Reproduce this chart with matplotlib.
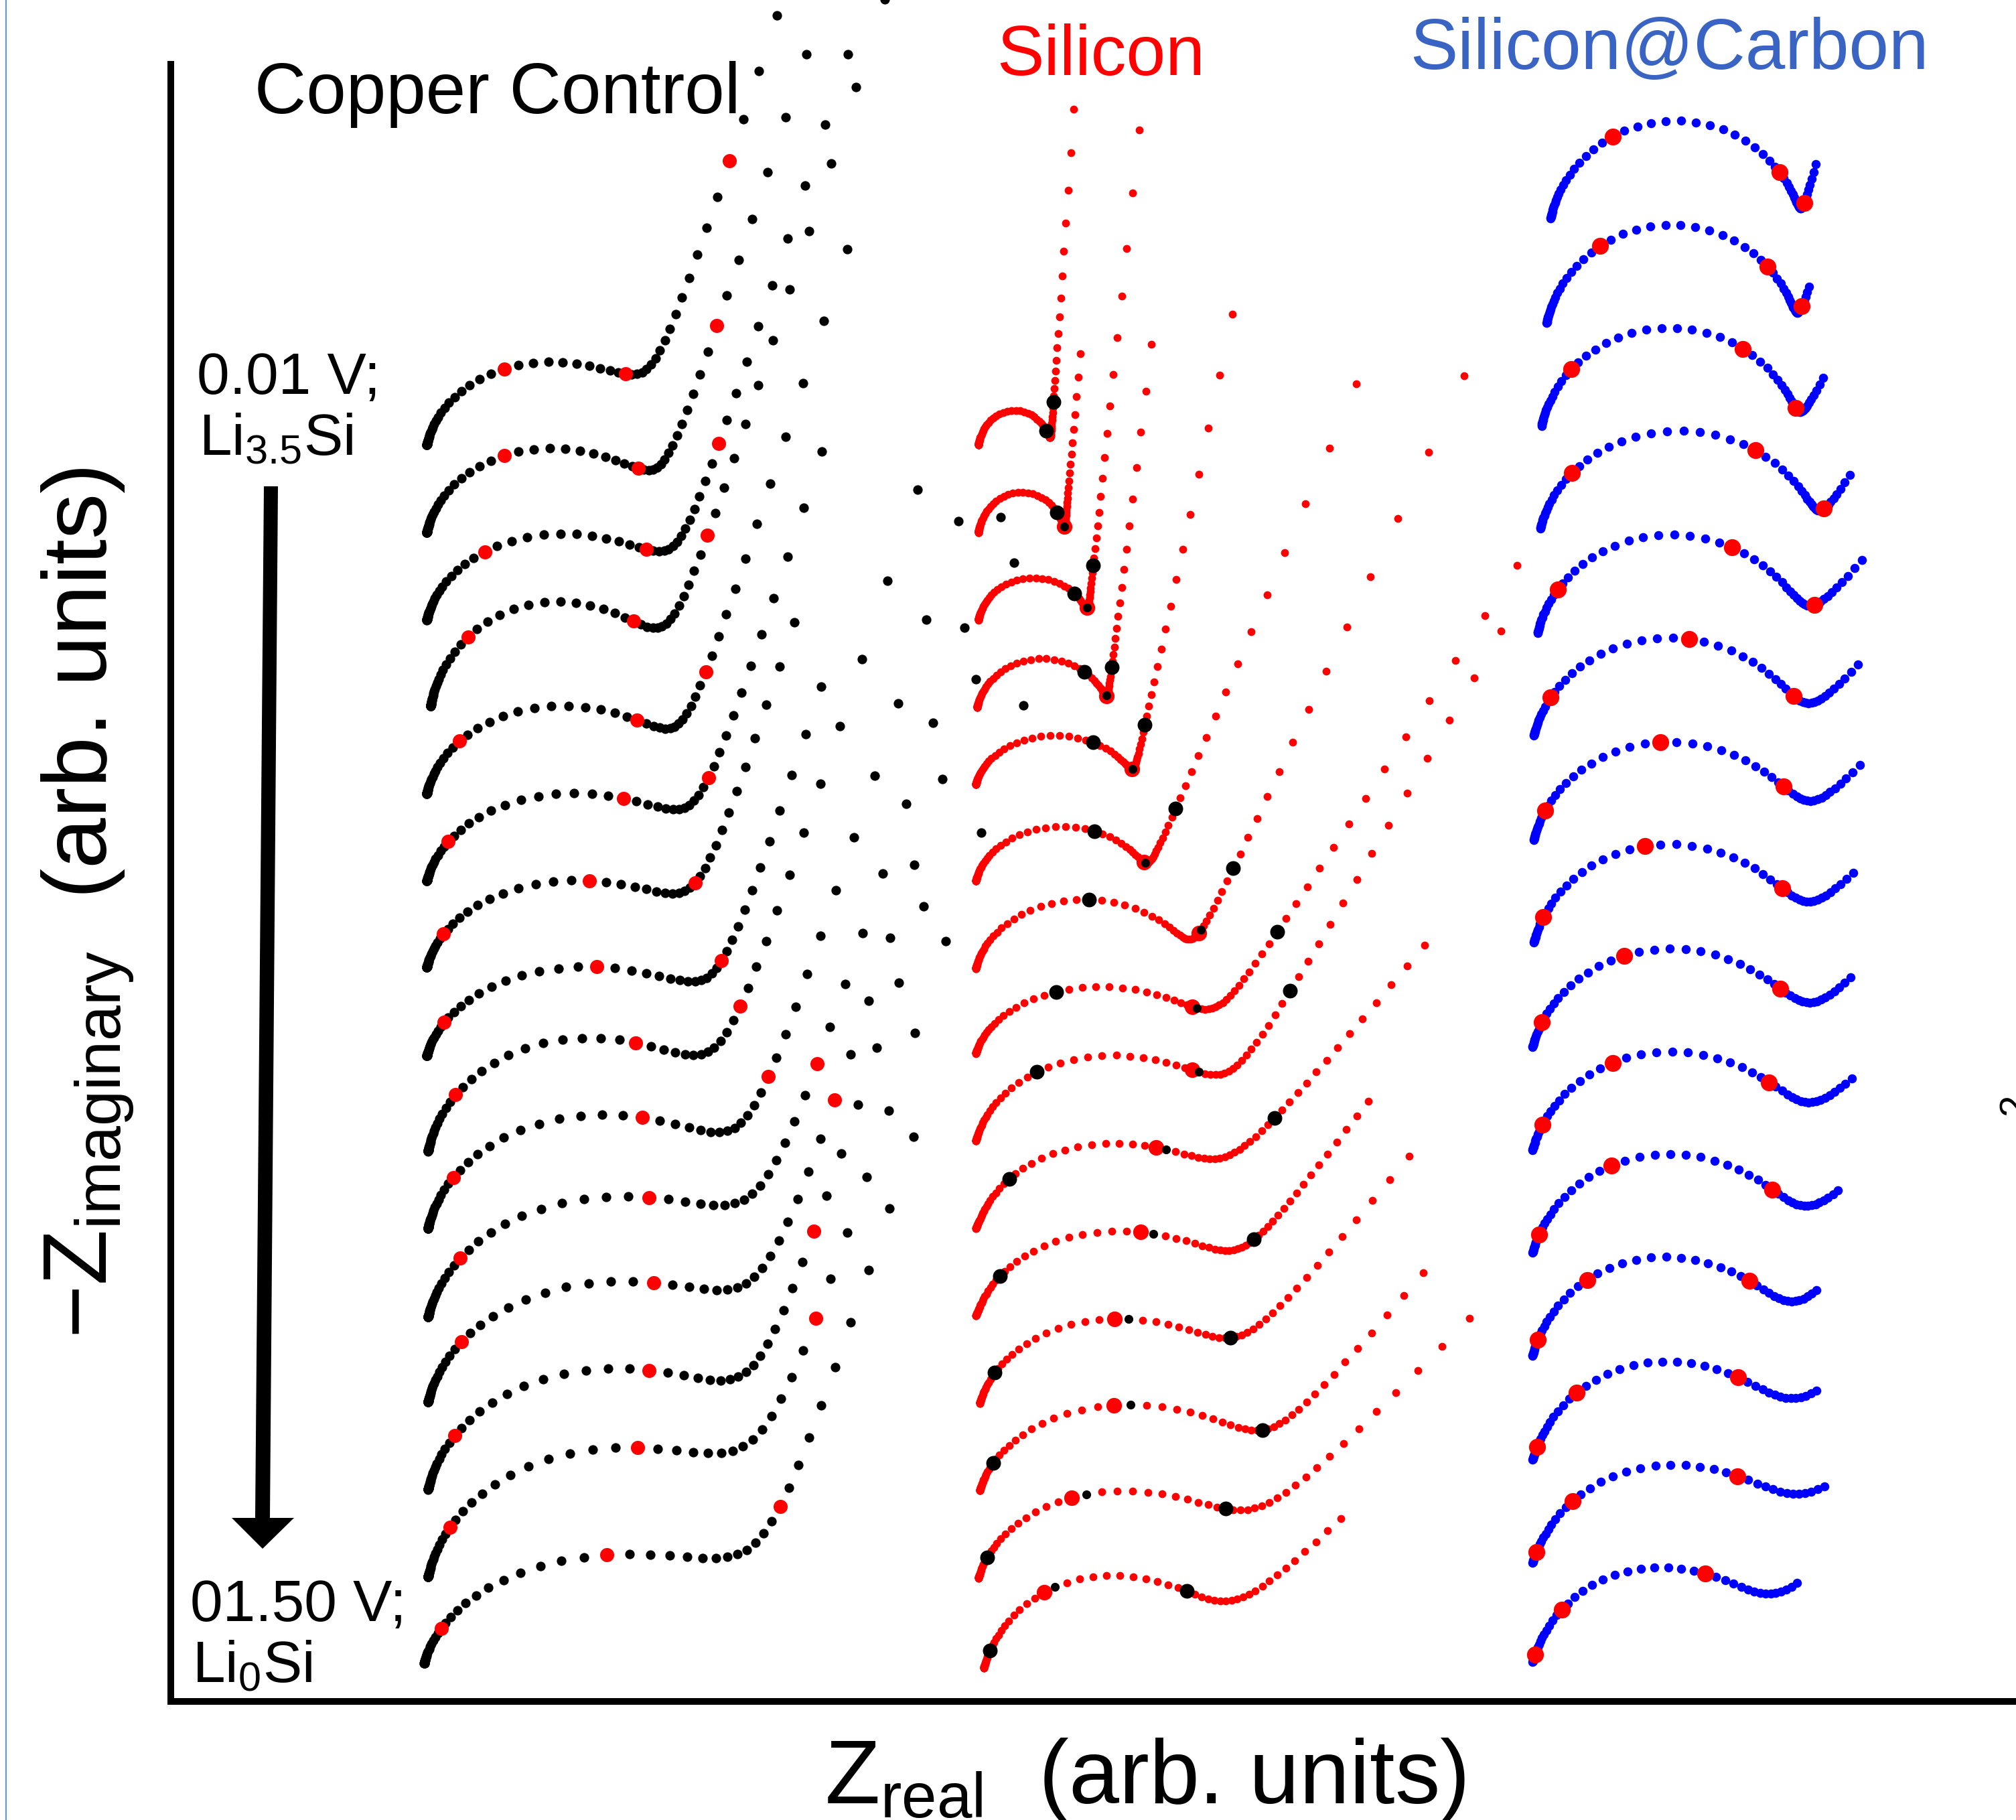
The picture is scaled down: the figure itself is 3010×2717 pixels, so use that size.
import numpy as np
import matplotlib.pyplot as plt
from matplotlib.lines import Line2D
from matplotlib.patches import Polygon

plt.rcParams['font.family'] = ['Liberation Sans', 'DejaVu Sans']
plt.rcParams['mathtext.fontset'] = 'custom'
plt.rcParams['mathtext.rm'] = 'Liberation Sans'
plt.rcParams['mathtext.it'] = 'Liberation Sans'

FIG_W, FIG_H = 3010, 2717
BASE = 1323  # y of the x axis in reference units

# Copper control (black points, red markers)
cu_x0 = [332, 332, 332, 335, 332, 332, 332, 332, 333, 333, 333, 333, 333, 333, 330]
cu_y0 = [346, 414, 482, 549, 617, 685, 752, 821, 895, 955, 1024, 1090, 1158, 1226, 1293]
cu_R = [165, 175, 185, 175, 190, 200, 200, 215, 215, 235, 245, 245, 240, 245, 250]
cu_ky = [0.8, 0.8, 0.75, 0.98, 0.765, 0.71, 0.69, 0.665, 0.85, 0.78, 0.76, 0.76, 0.78, 0.81, 0.653]
cu_S = [8.2, 5.8, 7.9, 8.3, 6.2, 7.7, 8.5, 8.3, 10, 10, 13.75, 13.75, 13.75, 15, 14]
cu_n = [0.79, 0.81, 0.75, 0.75, 0.8, 0.8, 0.8, 0.8, 0.85, 0.85, 0.85, 0.85, 0.8, 0.9, 0.85]
cu_ulo = [0.0021, 0.0023, 0.0031, 0.0035, 0.0048, 0.0085, 0.0127, 0.0113,
          0.0092, 0.0085, 0.0107, 0.0101, 0.012, 0.0138, 0.018]
cu_marks = [
    [(389, 284), (487, 290), (564, 125)],
    [(388, 353), (497, 366), (559, 256)],
    [(373, 431), (502, 428), (562, 347)],
    [(367, 495), (494, 484), (545, 418)],
    [(357, 578), (493, 558), (553, 523)],
    [(350, 654), (479, 620), (550, 606)],
    [(344, 726), (458, 685), (540, 682)],
    [(346, 794), (470, 752), (560, 747)],
    [(352, 852), (490, 809), (578, 777)],
    [(356, 915), (505, 871), (601, 838)],
    [(358, 978), (512, 930), (618, 828)],
    [(359, 1046), (513, 996), (618, 860)],
    [(355, 1116), (501, 1063), (608, 936)],
    [(352, 1185), (490, 1124), (599, 1020)],
    [(346, 1265), (470, 1211), (596, 1165)],
]

# Silicon (red points, black markers)
si_x0 = [761, 761, 761, 760, 759, 759, 759, 759, 759, 759, 759, 762, 762, 761, 765]
si_y0 = [346, 414, 482, 550, 610, 685, 753, 819, 887, 955, 1023, 1091, 1159, 1227, 1297]
si_R = [56, 67, 85, 101, 122, 132, 165, 175, 180, 165, 180, 180, 205, 190, 165]
si_ky = [1.13, 1.1, 0.9, 0.88, 0.73, 0.75, 0.75, 0.64, 0.75, 0.75, 0.7, 0.75, 0.7, 0.75, 0.9]
si_S = [0.15, 0.08, 0.32, 0.26, 0.45, 0.6, 1.25, 5.15, 10.5, 18, 16, 10.8, 8, 10, 13]
si_n = [0.9, 0.9, 0.9, 0.9, 0.9, 0.9, 0.9, 0.71, 0.63, 0.49, 0.47, 0.66, 0.72, 0.76, 0.6]
si_theta = [86, 85, 84, 83, 78, 67, 65, 57, 60, 50, 53, 51, 50, 46, 45]
si_ulo = [2.5e-4, 2.5e-4, 3.8e-4, 4.2e-4, 5.7e-4, 6.9e-4, 1.26e-3, 1.83e-3,
          2.5e-3, 3.5e-3, 4.2e-3, 8.8e-3, 0.0101, 0.0126, 0.0151]
si_black = [
    [(812, 336), (821, 314)],
    [(822, 399)],
    [(834, 463), (851, 438)],
    [(846, 521), (863, 518)],
    [(852, 578), (890, 560)],
    [(850, 641), (911, 626)],
    [(844, 699), (963, 679)],
    [(822, 771), (1013, 732)],
    [(806, 836), (1017, 783)],
    [(788, 916), (989, 871)],
    [(781, 992), (967, 955)],
    [(774, 1066), (955, 1030)],
    [(773, 1139), (981, 1100)],
    [(768, 1211), (955, 1168)],
    [(770, 1283), (928, 1233)],
]
si_red = [
    [],
    [(828, 412)],
    [(846, 475)],
    [(861, 543)],
    [(881, 605)],
    [(891, 668)],
    [(930, 723)],
    [(927, 779)],
    [(926, 832)],
    [(901, 892)],
    [(882, 957)],
    [(867, 1024)],
    [(867, 1092)],
    [(837, 1163)],
    [(814, 1239)],
]

# Silicon@Carbon (blue points, red markers)
sc_x0 = [1206, 1203, 1199, 1198, 1196, 1193, 1193, 1193, 1192, 1192, 1192, 1192, 1192, 1192, 1192]
sc_y0 = [170, 251, 331, 411, 492, 572, 653, 733, 814, 894, 974, 1054, 1135, 1215, 1292]
sc_R = [195, 195, 200, 215, 205, 205, 203, 200, 200, 198, 195, 185, 180, 180, 165]
sc_ky = [0.955, 0.955, 0.93, 0.864, 0.9, 0.89, 0.89, 0.9, 0.885, 0.885, 0.9, 0.93, 0.93, 0.9, 0.94]
sc_S = [0.13, 0.13, 0.22, 0.36, 1.3, 2.2, 3.6, 4.6, 6.0, 7.2, 7.6, 9.1, 12, 15.2, 13.9]
sc_n = [1.0, 1.0, 1.0, 1.0, 0.85, 0.78, 0.72, 0.67, 0.62, 0.6, 0.57, 0.57, 0.57, 0.57, 0.57]
sc_theta = [75, 72, 63, 58, 50, 49, 48, 47, 47, 46, 46, 50, 46, 44, 50]
sc_ulo = [0.0028, 0.0041, 0.005, 0.0071, 0.0084, 0.011, 0.014, 0.016,
          0.018, 0.02, 0.0234, 0.036, 0.052, 0.065, 0.059]
sc_marks = [
    [(1255, 102), (1385, 130), (1403, 158)],
    [(1240, 191), (1379, 203), (1404, 240)],
    [(1222, 286), (1362, 268), (1398, 316)],
    [(1221, 369), (1370, 346), (1418, 394)],
    [(1213, 456), (1347, 419), (1410, 467)],
    [(1205, 540), (1318, 493), (1395, 543)],
    [(1200, 628), (1297, 572), (1392, 609)],
    [(1198, 712), (1275, 655), (1387, 688)],
    [(1198, 792), (1265, 738), (1385, 765)],
    [(1198, 872), (1255, 818), (1375, 845)],
    [(1198, 959), (1251, 906), (1381, 920)],
    [(1197, 1041), (1237, 992), (1364, 995)],
    [(1195, 1125), (1225, 1082), (1353, 1067)],
    [(1194, 1206), (1220, 1168), (1349, 1142)],
    [(1194, 1287), (1215, 1252), (1326, 1219)],
]


def spectrum(x0, y0, R, ky, S, n, theta, u_lo, u_hi, ppd, alpha=0.9):
    npts = int(round(np.log10(u_hi / u_lo) * ppd)) + 1
    u = np.logspace(np.log10(u_hi), np.log10(u_lo), npts)
    arc = 1.0 / (1.0 + (1j * u) ** alpha)
    w = S * u ** (-n)
    t = np.radians(theta)
    x = R * arc.real + w * np.cos(t)
    y = -R * ky * arc.imag + w * np.sin(t)
    return x - x[0] + x0, y - y[0] + (BASE - y0)


def snap(x, y, pts):
    idx = []
    for px, py in pts:
        idx.append(int(np.argmin((x - px) ** 2 + (y - (BASE - py)) ** 2)))
    return idx


fig = plt.figure(figsize=(FIG_W / 100, FIG_H / 100), dpi=100)
ax = fig.add_axes([133 / 1568, 1 - BASE / 1415, 1 - 133 / 1568, (BASE - 50) / 1415])
ax.set_xlim(133, 1568)
ax.set_ylim(0, BASE - 50)
ax.spines['top'].set_visible(False)
ax.spines['right'].set_visible(False)
ax.spines['left'].set_linewidth(7.2)
ax.spines['bottom'].set_linewidth(7.2)
ax.set_xticks([])
ax.set_yticks([])

# copper
for k in range(len(cu_x0)):
    x, y = spectrum(cu_x0[k], cu_y0[k], cu_R[k], cu_ky[k], cu_S[k], cu_n[k], 72,
                    cu_ulo[k], 3000, 13)
    ax.scatter(x, y, s=105, c='black', linewidths=0, clip_on=False, zorder=3)
    idx = snap(x, y, cu_marks[k])
    ax.scatter(x[idx], y[idx], s=230, c='#FF0000', linewidths=0, clip_on=False, zorder=4)

# silicon
for k in range(len(si_x0)):
    x, y = spectrum(si_x0[k], si_y0[k], si_R[k], si_ky[k], si_S[k], si_n[k], si_theta[k],
                    si_ulo[k], 500, 15)
    ax.scatter(x, y, s=72, c='#FF0000', linewidths=0, clip_on=False, zorder=3)
    idx = snap(x, y, si_red[k])
    ax.scatter(x[idx], y[idx], s=280, c='#FF0000', linewidths=0, clip_on=False, zorder=4)
    nxt = [min(i + 1, len(x) - 1) for i in idx]
    ax.scatter(x[nxt], y[nxt], s=90, c='black', linewidths=0, clip_on=False, zorder=5)
    idx = snap(x, y, si_black[k])
    ax.scatter(x[idx], y[idx], s=250, c='black', linewidths=0, clip_on=False, zorder=5)

# silicon@carbon
for k in range(len(sc_x0)):
    x, y = spectrum(sc_x0[k], sc_y0[k], sc_R[k], sc_ky[k], sc_S[k], sc_n[k], sc_theta[k],
                    sc_ulo[k], 80, 15)
    ax.scatter(x, y, s=95, c='#0000FF', linewidths=0, clip_on=False, zorder=3)
    idx = snap(x, y, sc_marks[k])
    ax.scatter(x[idx], y[idx], s=330, c='#FF0000', linewidths=0, clip_on=False, zorder=4)


def fpos(x, y):
    return x / FIG_W, 1 - y / FIG_H


fig.text(*fpos(380, 169), 'Copper Control', fontsize=77, color='black', va='baseline')
fig.text(*fpos(1488, 112), 'Silicon', fontsize=76, color='#FF0000', va='baseline')
fig.text(*fpos(2105, 103), 'Silicon@Carbon', fontsize=77, color='#3964C3', va='baseline')
fig.text(*fpos(294, 588), '0.01 V;', fontsize=63, va='baseline')
fig.text(*fpos(297, 680), r'Li$_{3.5}$Si', fontsize=63, va='baseline')
fig.text(*fpos(284, 2420), '01.50 V;', fontsize=63, va='baseline')
fig.text(*fpos(287, 2512), r'Li$_{0}$Si', fontsize=63, va='baseline')

fig.text(*fpos(159, 1348), '\u2212Z$_{\\mathregular{imaginary}}$  (arb. units)', fontsize=98,
         rotation=90, rotation_mode='anchor', ha='center', va='baseline')
fig.text(*fpos(1231, 2692), 'Z$_{\\mathregular{real}}$  (arb. units)', fontsize=97,
         va='baseline')

arrow = [(394, 726), (415, 726), (403, 2266), (439, 2266), (392, 2312), (346, 2266), (381, 2266)]
fig.add_artist(Polygon([fpos(px, py) for px, py in arrow], closed=True,
                       transform=fig.transFigure, fc='black', ec='none'))

fig.add_artist(Line2D([9 / FIG_W, 9 / FIG_W], [0, 1], transform=fig.transFigure,
                      color='#5B9BD5', lw=1.5))
fig.text(*fpos(2982, 1649), '2', fontsize=42, rotation=90, ha='left', va='center')

fig.savefig('out.png', dpi=100)
